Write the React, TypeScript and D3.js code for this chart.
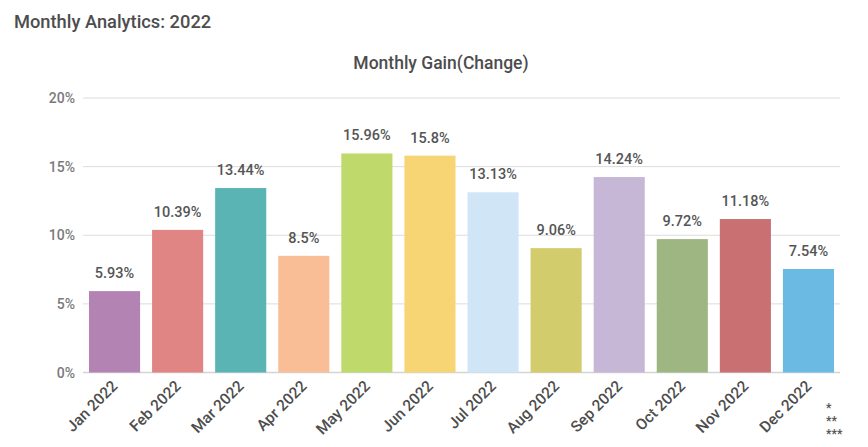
import React from "react";
import * as d3 from "d3";

const months = ["Jan 2022","Feb 2022","Mar 2022","Apr 2022","May 2022","Jun 2022","Jul 2022","Aug 2022","Sep 2022","Oct 2022","Nov 2022","Dec 2022"];
const gains = [5.93, 10.39, 13.44, 8.5, 15.96, 15.8, 13.13, 9.06, 14.24, 9.72, 11.18, 7.54];
const colors = ["#B384B3","#E08484","#5AB4B4","#FABE97","#BFD96B","#F7D574","#D0E5F6","#D3CC6C","#C6B7D6","#9EB682","#C87072","#6ABAE3"];
const yTicks = [0, 5, 10, 15, 20];
const notes = ["*", "**", "***"];

const W = 868, H = 447;
const FONT = "Roboto, 'Noto Sans', sans-serif";

export default function App() {
  const x = d3.scaleBand<string>().domain(months).range([83, 840]).paddingInner(0.19).paddingOuter(0.095);
  const y = d3.scaleLinear().domain([0, 20]).range([372.5, 98]);
  return (
    <svg width={W} height={H} style={{ position: "absolute", left: 0, top: 0, fontFamily: FONT }}>
      <rect width={W} height={H} fill="#fff" />
      <text x={14} y={28} fontSize={18.3} fontWeight={500} fill="#4d4d4d">Monthly Analytics: 2022</text>
      <text x={441} y={69} fontSize={17.5} fontWeight={500} fill="#4d4d4d" textAnchor="middle">Monthly Gain(Change)</text>
      {yTicks.map(t => (
        <g key={t}>
          <line x1={83} x2={840} y1={y(t)} y2={y(t)} stroke={t === 0 ? "#d4d4d4" : "#dcdcdc"} strokeWidth={t === 0 ? 1.5 : 1} />
          <text x={75} y={y(t) + 5} fontSize={14} fontWeight={500} fill="#7a7a7a" textAnchor="end">{t}%</text>
        </g>
      ))}
      {months.map((m, i) => {
        const bx = x(m)!;
        const bw = x.bandwidth();
        const cx = bx + bw / 2;
        return (
          <g key={m}>
            <rect x={bx} y={y(gains[i])} width={bw} height={y(0) - y(gains[i])} fill={colors[i]} />
            <text x={cx} y={y(gains[i]) - 13} fontSize={14.5} fontWeight={500} fill="#555" textAnchor="middle">{gains[i]}%</text>
            <text transform={`translate(${cx + 4},${387}) rotate(-45)`} fontSize={15.5} fontWeight={500} fill="#4d4d4d" textAnchor="end">{m}</text>
          </g>
        );
      })}
      {notes.map((n, i) => (
        <text key={n} x={826} y={412 + i * 13} fontSize={12} fontWeight={700} fill="#555">{n}</text>
      ))}
    </svg>
  );
}
